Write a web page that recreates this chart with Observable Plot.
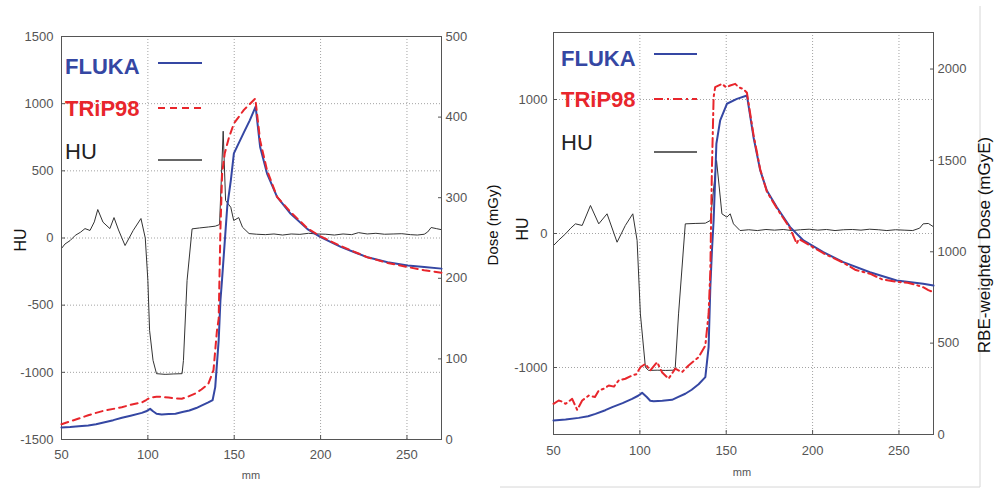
<!DOCTYPE html>
<html><head><meta charset="utf-8">
<script src="https://cdn.jsdelivr.net/npm/d3@7"></script>
<script src="https://cdn.jsdelivr.net/npm/@observablehq/plot@0.6"></script>
<style>
body{margin:0;background:#fff;}
#wrap{position:relative;width:997px;height:489px;overflow:hidden;background:#fff;font-family:"Liberation Sans",Arial,sans-serif;}
#wrap svg{position:absolute;}
</style></head><body><div id="wrap"></div>
<script>
// ---- tick values ----
const xTicks = [50, 100, 150, 200, 250];
const huTicksLeft = [-1500, -1000, -500, 0, 500, 1000, 1500];
const huTicksRight = [-1000, 0, 1000];
const doseTicksLeft = [0, 100, 200, 300, 400, 500];
const doseTicksRight = [0, 500, 1000, 1500, 2000];
const seriesNames = ["FLUKA", "TRiP98", "HU"];

// ---- left panel: [mm, HU] and [mm, dose mGy] ----
const huLeft = [[50,-78],[52,-45],[55,-19],[58,20],[61,43],[63.6,70],[66.5,56],[69,120],[71,212],[74,118],[78,70],[80.4,152],[83,60],[86.8,-56],[91.5,56],[96,145],[98.5,0],[100,-316],[101,-688],[103,-911],[105,-1010],[110,-1015],[115,-1012],[119.8,-1010],[120.6,-911],[122.7,-316],[125.6,68],[130,75],[135,82],[139,88],[141.5,100],[143.6,795],[145,279],[148,229],[149.7,130],[152.6,152],[154.8,80],[158.6,33],[163,28],[168,25],[173,30],[178,22],[183,30],[188,27],[193,35],[198,30],[203,28],[208,22],[213,30],[218,25],[222,40],[227,30],[232,35],[237,28],[242,30],[247,32],[252,25],[256,22],[260,28],[262,45],[264,78],[267,70],[270,62]];
const flukaLeft = [[50,15],[55,15.5],[60,16.5],[65.5,17.5],[70,19],[75,21.5],[80,24],[85,27],[90,29.5],[96.5,33],[99,35],[101.3,38],[103,35],[105,32],[108,31],[112,31.5],[116,32],[120,34],[124,36],[128,39],[131,42],[135,46],[137.5,49],[139,65],[141,123],[142,172],[143,200],[144,230],[146,290],[148,321],[149.8,355],[152,365],[155.6,381],[159,396],[162.4,413],[165,363],[169,330],[174.8,301],[182.7,280],[192.4,261],[200,251],[211.7,239],[220,232],[227.2,226],[238.8,220],[250.4,216],[260,214],[270,212]];
const tripLeft = [[50,19],[55,22.5],[60,26],[65.5,30],[70,33],[75,36],[80,38],[84.9,40],[90,43],[96.5,46],[99,49],[101.3,52],[105,53],[108,53],[112,52],[116,51],[119.6,50.5],[123,53],[127.3,57],[131,62],[135,69],[138,86],[140,135],[141,150],[142,260],[143,330],[144.5,355],[147,375],[149.8,392],[155.6,409],[162.2,423],[165,371],[169,334],[174.8,301],[182.7,282],[192.4,262],[200,252],[211.7,240],[227.2,226],[238.8,219],[250.4,214],[260,210],[270,207]];

// ---- right panel: [mm, HU] and [mm, RBE-weighted dose mGyE] ----
const huRight = [[50,-90],[53,-50],[57,-2],[60,40],[62.7,72],[66.6,60],[71.4,209],[76.2,72],[81,147],[86.8,-65],[91.6,60],[95.9,147],[98.4,-52],[100.3,-600],[103.2,-998],[105,-1022],[110,-1020],[115,-1022],[119.6,-1020],[120.5,-998],[122.4,-600],[126.3,72],[132,75],[137.9,77],[140.8,97],[144.4,545],[147.5,147],[150.4,122],[152.3,147],[154.2,72],[158,22],[163,28],[168,22],[173,30],[178,25],[183,30],[188,22],[193,28],[198,32],[203,25],[208,30],[213,22],[218,28],[223,30],[228,25],[233,32],[238,28],[243,22],[248,28],[253,25],[258,22],[262,40],[264,72],[267,75],[270,50]];
const flukaRight = [[50,77],[57,82],[64.6,91],[70,100],[74.3,113],[80,133],[84,150],[90,172],[95.5,195],[99,212],[101.3,228],[104,205],[106,185],[108,182],[113,185],[118.6,190],[122,205],[126.3,223],[130,245],[134,275],[137.9,314],[139.8,478],[140.8,806],[141.7,1000],[142.7,1171],[143.6,1400],[144.3,1591],[146.5,1719],[150.4,1810],[156.2,1837],[162,1855],[165.8,1627],[169.7,1445],[173.5,1335],[179.3,1244],[187,1135],[194.7,1062],[206.2,998],[217.8,943],[233.2,888],[248.7,843],[264,825],[270,815]];
const tripRight = [[50,168],[53,186],[55,180],[57,168],[60.8,195],[63.7,135],[66.6,186],[70.4,213],[74,205],[76.2,241],[79,250],[82,268],[85,262],[87.8,296],[91.6,305],[95.5,323],[98,330],[100.3,368],[103.2,387],[106,350],[110,396],[112.8,341],[116.6,305],[120.5,360],[124.4,341],[128.2,378],[134,423],[137.9,487],[139.8,661],[140.8,898],[141.7,1445],[142.7,1846],[143.6,1901],[147.5,1919],[150,1900],[152.3,1910],[155.2,1919],[157.1,1901],[160,1890],[162,1870],[165.8,1640],[169.7,1450],[173.5,1330],[179.3,1238],[187,1128],[190.8,1044],[192,1070],[194.7,1055],[206.2,992],[217.8,940],[225,900],[233.2,880],[240,850],[248.7,836],[255,830],[260,818],[264,806],[267,790],[270,779]];

const BLUE = "#3547a3", RED = "#e8262c", DARK = "#333";
const fmt = d => String(d);
const wrap = document.getElementById("wrap");

function panel(o) {
  const common = {
    width: o.width, height: 489,
    marginTop: o.mt, marginBottom: o.mb, marginLeft: o.ml, marginRight: o.mr,
    style: {background: "transparent", fontFamily: "Liberation Sans, Arial, sans-serif", fontSize: "13px", color: "#555", overflow: "visible"},
    x: {domain: [50, 270]}
  };
  const gridHU = o.huTicks.filter(t => t > -1500 && t < 1500);
  const a = Plot.plot({
    ...common,
    y: {domain: [-1500, 1500]},
    marks: [
      Plot.gridX(xTicks.filter(t => t > 50), {stroke: "#999", strokeOpacity: 0.9, strokeDasharray: "1,2"}),
      Plot.gridY(gridHU, {stroke: "#999", strokeOpacity: 0.9, strokeDasharray: "1,2"}),
      Plot.line(o.hu, {x: d => d[0], y: d => d[1], stroke: DARK, strokeWidth: 1}),
      Plot.frame({stroke: "#555"}),
      Plot.axisX(xTicks, {tickSize: 0, tickPadding: o.padX, tickFormat: fmt, label: null}),
      Plot.axisX(xTicks, {tickSize: -4, tickFormat: () => "", label: null, stroke: "#555"}),
      Plot.axisY(o.huTicks, {anchor: "left", tickSize: 0, tickPadding: o.padYL, tickFormat: fmt, label: null}),
      Plot.axisY(o.huTicks, {anchor: "left", tickSize: -4, tickFormat: () => "", label: null, stroke: "#555"})
    ]
  });
  const b = Plot.plot({
    ...common,
    x: {domain: [50, 270], axis: null},
    y: {domain: o.doseDomain},
    marks: [
      Plot.line(o.fluka, {x: d => d[0], y: d => d[1], stroke: BLUE, strokeWidth: 2}),
      Plot.line(o.trip, {x: d => d[0], y: d => d[1], stroke: RED, strokeWidth: 2, strokeDasharray: o.dash}),
      Plot.axisY(o.doseTicks, {anchor: "right", tickSize: 0, tickPadding: o.padYR, tickFormat: fmt, label: null}),
      Plot.axisY(o.doseTicks, {anchor: "right", tickSize: -4, tickFormat: () => "", label: null, stroke: "#555"})
    ]
  });
  for (const s of [a, b]) {
    s.style.left = o.left + "px";
    s.style.top = "0px";
    wrap.appendChild(s);
  }
}

panel({left: 0, width: 500, mt: 36, mb: 50, ml: 61, mr: 59, hu: huLeft, fluka: flukaLeft, trip: tripLeft,
  huTicks: huTicksLeft, doseDomain: [0, 500], doseTicks: doseTicksLeft, dash: "7,5", padX: 10, padYL: 8, padYR: 4});
panel({left: 500, width: 497, mt: 32, mb: 55, ml: 53, mr: 64, hu: huRight, fluka: flukaRight, trip: tripRight,
  huTicks: huTicksRight, doseDomain: [0, 2200], doseTicks: doseTicksRight, dash: "9,4,2,4", padX: 11, padYL: 6, padYR: 4});

// ---- legends and axis titles (annotation layer) ----
const ns = "http://www.w3.org/2000/svg";
const ann = document.createElementNS(ns, "svg");
ann.setAttribute("width", 997); ann.setAttribute("height", 489);
ann.style.left = "0px"; ann.style.top = "0px";
ann.style.fontFamily = "Liberation Sans, Arial, sans-serif";
wrap.appendChild(ann);
function el(tag, attrs, text) {
  const e = document.createElementNS(ns, tag);
  for (const k in attrs) e.setAttribute(k, attrs[k]);
  if (text != null) e.textContent = text;
  ann.appendChild(e);
  return e;
}
// faint figure border on right image
el("line", {x1: 980, y1: 6, x2: 980, y2: 487, stroke: "#d6d6d6", "stroke-width": 1});
el("line", {x1: 500, y1: 487, x2: 980, y2: 487, stroke: "#d6d6d6", "stroke-width": 1});

const legends = [
  {tx: 65, sx1: 158, sx2: 202, rows: [[74, 63], [116, 108], [159, 160]], dash: "7,5"},
  {tx: 561, sx1: 654, sx2: 697, rows: [[66, 54], [107, 99], [150, 152]], dash: "9,4,2,4"}
];
const styles = [
  {fill: BLUE, weight: "bold", stroke: BLUE, sw: 2, dash: null},
  {fill: RED, weight: "bold", stroke: RED, sw: 2, dash: "x"},
  {fill: "#222", weight: "normal", stroke: DARK, sw: 1.3, dash: null}
];
for (const L of legends) {
  seriesNames.forEach((name, i) => {
    const st = styles[i];
    el("text", {x: L.tx, y: L.rows[i][0], fill: st.fill, "font-size": 22, "font-weight": st.weight}, name);
    const ln = {x1: L.sx1, x2: L.sx2, y1: L.rows[i][1], y2: L.rows[i][1], stroke: st.stroke, "stroke-width": st.sw};
    if (st.dash) ln["stroke-dasharray"] = L.dash;
    el("line", ln);
  });
}
function vtitle(x, y, text, size) {
  el("text", {x: 0, y: 0, transform: `translate(${x},${y}) rotate(-90)`, "text-anchor": "middle", "dominant-baseline": "central", "font-size": size, fill: "#111"}, text);
}
vtitle(20, 240, "HU", 16);
vtitle(492, 225, "Dose (mGy)", 15);
vtitle(522, 229, "HU", 16);
vtitle(984, 245, "RBE-weighted Dose  (mGyE)", 17);
el("text", {x: 251, y: 479, "text-anchor": "middle", "font-size": 11, fill: "#555"}, "mm");
el("text", {x: 742, y: 476, "text-anchor": "middle", "font-size": 11, fill: "#555"}, "mm");
</script></body></html>
